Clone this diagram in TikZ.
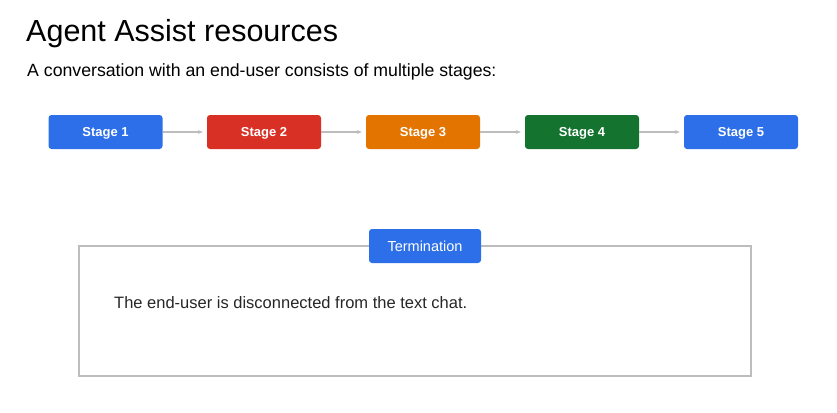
\documentclass[tikz,border=0pt]{standalone}
\usepackage{fontspec}
\setmainfont{Liberation Sans}
\usetikzlibrary{positioning,arrows.meta}
\definecolor{gblue}{HTML}{2C6FE9}
\definecolor{gred}{HTML}{D93025}
\definecolor{gorange}{HTML}{E37400}
\definecolor{ggreen}{HTML}{13732F}
\definecolor{garrow}{HTML}{BDBDBD}
\tikzset{
  stagebox/.style={rounded corners=3pt, minimum width=114pt, minimum height=34pt,
    text=white, font=\bfseries\fontsize{13}{15}\selectfont, inner sep=0pt,
    text height=9.4pt, text depth=0pt},
  flow/.style={draw=garrow, line width=1.2pt, shorten >=4pt, -{Stealth[length=5pt,width=4pt]}},
}
\begin{document}
\begin{tikzpicture}[x=1pt, y=-1pt]
	\useasboundingbox (0,0) rectangle (837,412);
	% Heading
	\node[anchor=base west, inner sep=0pt, font=\fontsize{30.5}{33}\selectfont] (title) at (26,41.5) {Agent Assist resources};
	\node[anchor=base west, inner sep=0pt, font=\fontsize{17.7}{20}\selectfont] (intro) at (27,77) {A conversation with an end-user consists of multiple stages:};

	% Stages
	\node[stagebox, fill=gblue] (s1) at (105.5,132) {Stage 1};
	\node[stagebox, fill=gred] (s2) at (264,132) {Stage 2};
	\node[stagebox, fill=gorange] (s3) at (423,132) {Stage 3};
	\node[stagebox, fill=ggreen] (s4) at (582,132) {Stage 4};
	\node[stagebox, fill=gblue] (s5) at (741,132) {Stage 5};
	\foreach \a/\b in {s1/s2, s2/s3, s3/s4, s4/s5}
		\draw[flow] (\a) -- (\b);

	% Termination panel
	\draw[draw=garrow, line width=1.2pt] (79,246) rectangle (751,376);
	\node[stagebox, fill=gblue, minimum width=112pt, text height=10.4pt, font=\fontsize{14.5}{17}\selectfont] (term) at (425,246) {Termination};
	\node[anchor=base west, inner sep=0pt, font=\fontsize{16.5}{19}\selectfont, text=black!85] (desc) at (114,308) {The end-user is disconnected from the text chat.};
\end{tikzpicture}
\end{document}
